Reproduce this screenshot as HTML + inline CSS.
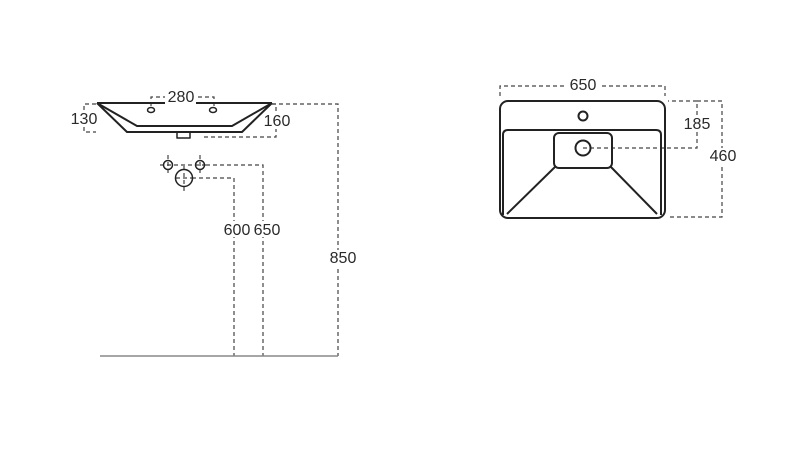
<!DOCTYPE html>
<html><head><meta charset="utf-8"><style>
html,body{margin:0;padding:0;background:#fff;width:800px;height:449px;overflow:hidden}
svg{display:block}
text{font-family:"Liberation Sans",sans-serif;font-size:16px;fill:#2a2a2a}
</style></head><body>
<svg width="800" height="449" viewBox="0 0 800 449" xmlns="http://www.w3.org/2000/svg">
<g fill="none" stroke="#444" stroke-width="1.2" stroke-dasharray="4,3">
  <polyline points="151,106 151,97 214,97 214,106"/>
  <polyline points="96,104 84,104 84,132 96,132"/>
  <polyline points="272,104 276,104 276,137 203,137"/>
  <polyline points="272,104 338,104 338,356"/>
  <polyline points="206,165 263,165 263,356"/>
  <polyline points="192,178 234,178 234,356"/>
  <line x1="160" y1="165" x2="208" y2="165"/>
  <line x1="168" y1="155" x2="168" y2="173"/>
  <line x1="200" y1="155" x2="200" y2="173"/>
  <line x1="184" y1="166" x2="184" y2="192"/>
  <line x1="176" y1="178" x2="192" y2="178"/>
  <polyline points="500,96 500,86 665,86 665,96"/>
  <polyline points="583,148 697,148 697,101 668,101"/>
  <polyline points="697,101 722,101 722,217 670,217"/>
</g>
<line x1="100" y1="356" x2="338" y2="356" stroke="#888" stroke-width="1.5"/>
<g fill="none" stroke="#222" stroke-width="2" stroke-linejoin="round">
  <polyline points="97,103 272,103"/>
  <polyline points="97,103 137,126 232,126 272,103"/>
  <polyline points="97,103 127,132 242,132 272,103"/>
  <rect x="177" y="132" width="13" height="6" stroke-width="1.5"/>
  <ellipse cx="151" cy="110" rx="3.5" ry="2.5" stroke-width="1.5"/>
  <ellipse cx="213" cy="110" rx="3.5" ry="2.5" stroke-width="1.5"/>
  <circle cx="168" cy="165" r="4.5" stroke-width="1.5"/>
  <circle cx="200" cy="165" r="4.5" stroke-width="1.5"/>
  <circle cx="184" cy="178" r="8.5" stroke-width="1.5"/>
</g>
<g fill="none" stroke="#222" stroke-width="2" stroke-linejoin="round">
  <rect x="500" y="101" width="165" height="117" rx="8"/>
  <path d="M503,215 L503,135 Q503,130 508,130 L656,130 Q661,130 661,135 L661,215"/>
  <rect x="554" y="133" width="58" height="35" rx="5"/>
  <circle cx="583" cy="148" r="7.5"/>
  <circle cx="583" cy="116" r="4.5"/>
  <line x1="556" y1="166" x2="507" y2="214"/>
  <line x1="610" y1="166" x2="657" y2="214"/>
</g>
<g>
  <rect x="165" y="89" width="31" height="15" fill="#fff"/>
  <text x="181" y="102" text-anchor="middle">280</text>
  <rect x="70" y="111" width="27" height="16" fill="#fff"/>
  <text x="84" y="124" text-anchor="middle">130</text>
  <rect x="264" y="113" width="26" height="16" fill="#fff"/>
  <text x="277" y="126" text-anchor="middle">160</text>
  <rect x="220" y="221" width="58" height="16" fill="#fff"/>
  <text x="237" y="235" text-anchor="middle">600</text>
  <text x="267" y="235" text-anchor="middle">650</text>
  <rect x="327" y="250" width="32" height="16" fill="#fff"/>
  <text x="343" y="263" text-anchor="middle">850</text>
  <rect x="567" y="78" width="32" height="15" fill="#fff"/>
  <text x="583" y="90" text-anchor="middle">650</text>
  <rect x="684" y="116" width="27" height="16" fill="#fff"/>
  <text x="697" y="129" text-anchor="middle">185</text>
  <rect x="707" y="148" width="32" height="16" fill="#fff"/>
  <text x="723" y="161" text-anchor="middle">460</text>
</g>
</svg>
</body></html>
